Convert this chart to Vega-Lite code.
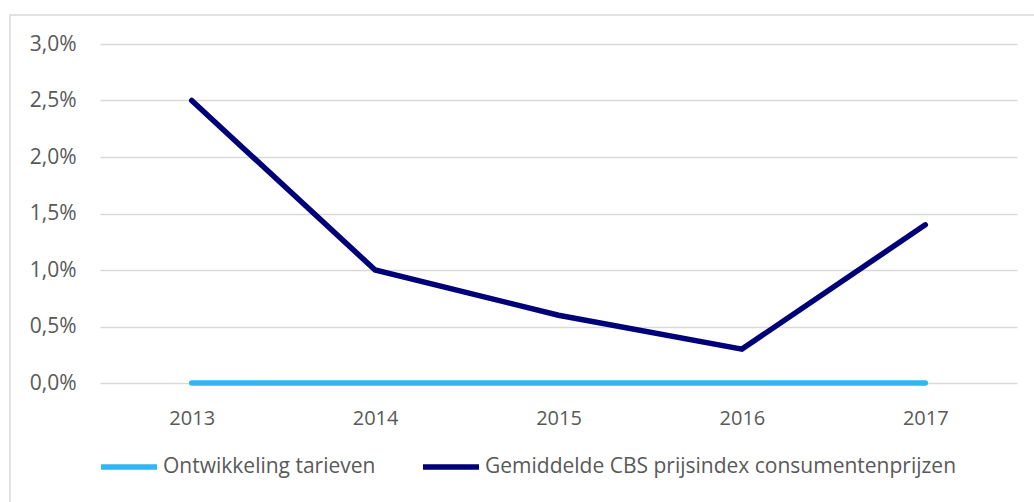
{
  "$schema": "https://vega.github.io/schema/vega-lite/v6.json",
  "autosize": "none",
  "width": 917,
  "height": 339,
  "padding": {"left": 100, "top": 44, "right": 17, "bottom": 119},
  "background": "white",
  "config": {
    "font": "Open Sans",
    "view": {"stroke": null}
  },
  "layer": [
    {
      "data": {"values": [{}]},
      "mark": {"type": "rect", "fill": null, "stroke": "#d9d9d9", "strokeWidth": 1.5, "clip": false},
      "encoding": {
        "x": {"value": -90},
        "y": {"value": -29},
        "x2": {"value": 960},
        "y2": {"value": 480}
      }
    },
    {
      "data": {
        "values": [
          {"jaar": "2013", "reeks": "Ontwikkeling tarieven", "waarde": 0},
          {"jaar": "2014", "reeks": "Ontwikkeling tarieven", "waarde": 0},
          {"jaar": "2015", "reeks": "Ontwikkeling tarieven", "waarde": 0},
          {"jaar": "2016", "reeks": "Ontwikkeling tarieven", "waarde": 0},
          {"jaar": "2017", "reeks": "Ontwikkeling tarieven", "waarde": 0},
          {"jaar": "2013", "reeks": "Gemiddelde CBS prijsindex consumentenprijzen", "waarde": 0.025},
          {"jaar": "2014", "reeks": "Gemiddelde CBS prijsindex consumentenprijzen", "waarde": 0.010},
          {"jaar": "2015", "reeks": "Gemiddelde CBS prijsindex consumentenprijzen", "waarde": 0.006},
          {"jaar": "2016", "reeks": "Gemiddelde CBS prijsindex consumentenprijzen", "waarde": 0.003},
          {"jaar": "2017", "reeks": "Gemiddelde CBS prijsindex consumentenprijzen", "waarde": 0.014}
        ]
      },
      "mark": {"type": "line", "strokeWidth": 5.5, "strokeCap": "round", "strokeJoin": "miter"},
      "encoding": {
        "x": {
          "field": "jaar", "type": "ordinal", "title": null,
          "scale": {"paddingInner": 0, "paddingOuter": 0.5},
          "axis": {"domain": false, "ticks": false, "labelAngle": 0, "labelFontSize": 20, "labelColor": "#595959", "labelPadding": 25, "grid": false}
        },
        "y": {
          "field": "waarde", "type": "quantitative", "title": null,
          "scale": {"domain": [0, 0.03], "nice": false},
          "axis": {
            "values": [0, 0.005, 0.01, 0.015, 0.02, 0.025, 0.03],
            "labelExpr": "replace(format(datum.value, '.1%'), '.', ',')",
            "domain": false, "ticks": false, "labelFontSize": 21, "labelColor": "#595959",
            "labelPadding": 24, "gridColor": "#d9d9d9", "gridWidth": 1.5
          }
        },
        "color": {
          "field": "reeks", "type": "nominal", "title": null,
          "scale": {
            "domain": ["Ontwikkeling tarieven", "Gemiddelde CBS prijsindex consumentenprijzen"],
            "range": ["#33b5f5", "#000078"]
          },
          "legend": {
            "orient": "none", "direction": "horizontal", "legendX": -2, "legendY": 392,
            "symbolType": "stroke", "symbolSize": 3136, "symbolStrokeWidth": 5.5,
            "labelFontSize": 21, "labelColor": "#595959", "labelOffset": 3,
            "columnPadding": 36, "labelLimit": 600
          }
        },
        "order": {"field": "reeks"}
      }
    }
  ]
}
